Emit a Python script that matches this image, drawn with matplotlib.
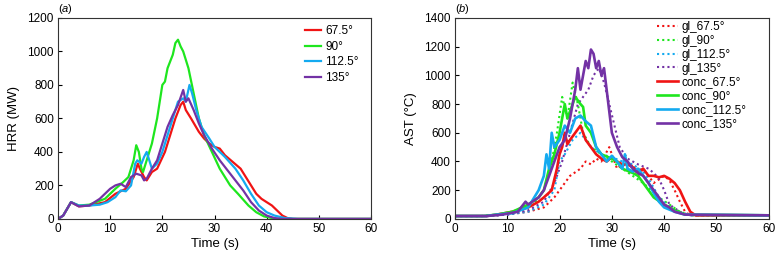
"""
HRR and AST vs time for four inclination angles
"""

import numpy as np
import matplotlib
matplotlib.use('Agg')
import matplotlib.pyplot as plt

plt.rcParams['font.family'] = ['Liberation Sans', 'DejaVu Sans']
plt.rcParams['mathtext.fontset'] = 'custom'
plt.rcParams['mathtext.it'] = 'Liberation Sans:italic'
plt.rcParams['mathtext.rm'] = 'Liberation Sans'

# panel (a): heat release rate (MW)
angles = ['67.5°', '90°', '112.5°', '135°']
colors = ['#f01414', '#1ee61e', '#14aaf0', '#7332a5']

hrr_t = {
    '67.5°': [0, 1, 2.5, 4, 6, 9, 11, 13, 14.5, 15.3, 15.7, 16.5, 17, 18, 19, 20.5, 21.5, 22.5, 23.5, 24, 24.5,
              25.5, 27, 28, 29, 30, 31, 32, 33.5, 35, 36, 37, 38, 39, 40, 41, 42, 43, 44, 45, 60],
    '90°': [0, 1, 2.5, 4, 6, 9, 11, 12.5, 13.5, 14.5, 15, 15.5, 16, 16.3, 17, 18, 19, 20, 20.5, 21, 22, 22.5,
            23, 23.5, 24, 25, 26, 27, 28, 29.5, 31, 33, 34.5, 36.5, 38, 39.5, 41, 42, 60],
    '112.5°': [0, 1, 2.5, 4, 6, 8, 9.5, 11, 12, 13, 14, 14.8, 15.2, 16, 16.5, 17, 17.5, 18, 19, 20, 21, 22, 23,
               24, 24.5, 25.2, 25.7, 26.5, 27.5, 29, 30, 32, 34, 35.5, 37, 38.5, 40, 41.5, 43.5, 46, 60],
    '135°': [0, 1, 2.5, 4, 6, 8, 10, 11, 12, 13, 14, 15, 16, 16.5, 17, 18, 19, 20, 21, 22, 23, 24, 24.5, 25,
             26, 27, 28, 29.5, 31, 32.5, 34, 35.5, 37, 38.5, 40, 41.5, 43, 60],
}
hrr_v = {
    '67.5°': [0, 20, 100, 75, 80, 100, 150, 180, 250, 330, 300, 250, 230, 280, 300, 400, 500, 600, 680, 700, 650,
              600, 520, 480, 450, 430, 420, 380, 340, 300, 250, 200, 150, 120, 100, 80, 50, 20, 5, 0, 0],
    '90°': [0, 20, 100, 80, 85, 120, 180, 220, 250, 350, 440, 400, 300, 280, 350, 450, 600, 800, 820, 900, 980,
            1050, 1070, 1030, 1000, 900, 750, 600, 500, 400, 300, 200, 150, 80, 40, 15, 5, 0, 0],
    '112.5°': [0, 20, 100, 80, 80, 85, 100, 130, 170, 165, 200, 330, 350, 330, 370, 400, 350, 300, 330, 400, 500,
               600, 700, 720, 700, 800, 750, 650, 550, 480, 430, 370, 300, 230, 150, 80, 40, 20, 5, 0, 0],
    '135°': [0, 20, 100, 75, 80, 120, 180, 200, 210, 190, 250, 270, 260, 230, 240, 300, 350, 450, 550, 620, 680,
             770, 700, 720, 650, 570, 500, 420, 350, 290, 230, 170, 100, 50, 20, 5, 0, 0],
}

# panel (b): average surface temperature (°C), glass (dotted) and concrete (solid)
gl_t = {
    '67.5°': [0, 6, 10, 14, 17, 19, 20, 21, 22, 24, 25, 26, 27, 28, 29.5, 30, 31, 32, 33, 34, 35, 36, 37, 38,
              40, 41, 42, 43, 44, 45, 60],
    '90°': [0, 5, 8, 12, 15, 17, 18.5, 19.5, 20.5, 21.5, 22.5, 23.5, 24.5, 26, 28, 30, 32, 34, 36, 37.5, 39,
            41, 43, 45, 60],
    '112.5°': [0, 6, 10, 14, 17, 19, 20, 21, 22.5, 24, 25, 26, 28, 30, 32, 34, 36, 37.5, 39, 41, 43, 45, 60],
    '135°': [0, 6, 10, 14, 17, 19, 20.5, 22, 23.5, 24.5, 25.5, 26.5, 27.5, 28.5, 29.5, 30.5, 31.5, 33, 35,
             37, 38, 39, 40, 41, 43, 45, 60],
}
gl_v = {
    '67.5°': [20, 20, 30, 50, 80, 150, 200, 250, 300, 350, 400, 380, 420, 400, 500, 450, 350, 380, 350, 380,
              300, 350, 300, 250, 300, 270, 200, 120, 50, 25, 25],
    '90°': [20, 20, 30, 50, 100, 200, 400, 600, 850, 700, 950, 800, 600, 500, 450, 400, 350, 300, 250, 200,
            150, 100, 50, 25, 25],
    '112.5°': [20, 20, 30, 50, 100, 200, 400, 450, 550, 600, 550, 500, 450, 430, 400, 380, 330, 250, 150, 80,
               40, 25, 25],
    '135°': [20, 20, 30, 60, 120, 250, 400, 600, 800, 850, 900, 1000, 1050, 950, 800, 650, 500, 420, 380,
             350, 320, 280, 200, 100, 50, 25, 25],
}
conc_t = {
    '67.5°': [0, 6, 8, 11, 14, 16, 17, 18.5, 19.5, 20, 20.5, 21, 21.5, 22, 23, 24, 24.5, 25, 26, 27, 28, 29,
              30, 31, 32, 33, 34, 35, 36, 37, 38, 39, 40, 41, 42, 43, 44, 45, 46, 60],
    '90°': [0, 5.5, 8, 11, 14, 16, 17, 18, 19, 20, 21, 21.5, 22, 23, 24, 24.5, 25, 26, 27, 28, 30, 31, 32,
            34, 35, 36, 37, 38, 40, 42, 44, 60],
    '112.5°': [0, 6, 8, 11, 14, 16, 17, 17.5, 18, 18.5, 19, 20, 21, 22, 23, 24, 25, 26, 27, 28, 29, 30, 31,
               32, 32.5, 33, 34, 35, 36, 37, 38, 39, 40, 42, 44, 60],
    '135°': [0, 6, 9, 12, 13.5, 14, 16, 17, 18, 19, 20, 21, 22, 23, 23.5, 24, 24.5, 25, 25.5, 26, 26.5, 27,
             27.5, 28, 28.5, 29, 29.5, 30, 31, 32, 33, 34, 35, 36, 37, 38, 39, 40, 41, 42, 44, 60],
}
conc_v = {
    '67.5°': [20, 20, 30, 50, 80, 120, 150, 200, 350, 450, 500, 600, 520, 550, 600, 650, 600, 550, 500, 450,
              420, 400, 430, 400, 380, 380, 360, 330, 350, 300, 300, 290, 300, 280, 250, 200, 120, 50, 25, 25],
    '90°': [20, 20, 30, 50, 100, 150, 200, 350, 450, 600, 800, 700, 750, 850, 800, 780, 650, 600, 500, 450,
            420, 400, 350, 320, 300, 250, 200, 150, 100, 60, 30, 25],
    '112.5°': [20, 20, 30, 40, 80, 200, 300, 450, 350, 600, 500, 550, 650, 600, 700, 720, 680, 650, 500, 450,
               400, 440, 400, 350, 450, 350, 330, 350, 300, 250, 180, 120, 80, 50, 30, 25],
    '135°': [20, 20, 30, 50, 120, 100, 150, 200, 300, 400, 500, 550, 700, 900, 1050, 900, 1000, 1100, 1050,
             1180, 1150, 1050, 1100, 1000, 1050, 900, 750, 600, 500, 430, 400, 350, 320, 300, 250, 200, 150,
             100, 80, 50, 30, 25],
}


def style_axes(ax):
    for s in ax.spines.values():
        s.set_linewidth(0.8)
        s.set_color('#333333')
    ax.tick_params(direction='in', length=3, width=0.8, labelsize=8.5, top=False, right=False, pad=3)
    ax.set_xlim(0, 60)
    ax.set_xticks(np.arange(0, 61, 10))


fig = plt.figure(figsize=(7.75, 2.6), dpi=100)
ax1 = fig.add_axes([0.0748, 0.158, 0.404, 0.773])
ax2 = fig.add_axes([0.587, 0.158, 0.405, 0.773])

# (a) HRR
for a, c in zip(angles, colors):
    ax1.plot(hrr_t[a], hrr_v[a], color=c, lw=1.6, label=a)
style_axes(ax1)
ax1.set_ylim(0, 1200)
ax1.set_yticks(np.arange(0, 1201, 200))
ax1.set_xlabel('Time (s)', fontsize=9.5, labelpad=2)
ax1.set_ylabel('HRR (MW)', fontsize=9.5, labelpad=5)
ax1.legend(loc='upper left', bbox_to_anchor=(0.78, 0.975), frameon=False, fontsize=8.5,
           handlelength=1.4, handletextpad=0.35, labelspacing=0.3, borderaxespad=0.0, borderpad=0.2)
ax1.text(0.0, 1.008, r'($\mathit{a}$)', transform=ax1.transAxes, fontsize=8, va='bottom')

# (b) AST
for a, c in zip(angles, colors):
    ax2.plot(gl_t[a], gl_v[a], color=c, lw=1.5, ls=(0, (1, 1.5)), label='gl_' + a)
for a, c in zip(angles, colors):
    ax2.plot(conc_t[a], conc_v[a], color=c, lw=1.9, label='conc_' + a)
style_axes(ax2)
ax2.set_ylim(0, 1400)
ax2.set_yticks(np.arange(0, 1401, 200))
ax2.set_xlabel('Time (s)', fontsize=9.5, labelpad=2)
ax2.set_ylabel('AST (°C)', fontsize=9.5, labelpad=5)
ax2.legend(loc='upper left', bbox_to_anchor=(0.635, 0.995), frameon=False, fontsize=8.5,
           handlelength=1.8, handletextpad=0.3, labelspacing=0.15, borderaxespad=0.0, borderpad=0.2)
ax2.text(0.0, 1.008, r'($\mathit{b}$)', transform=ax2.transAxes, fontsize=8, va='bottom')

fig.savefig('out.png', dpi=100)
